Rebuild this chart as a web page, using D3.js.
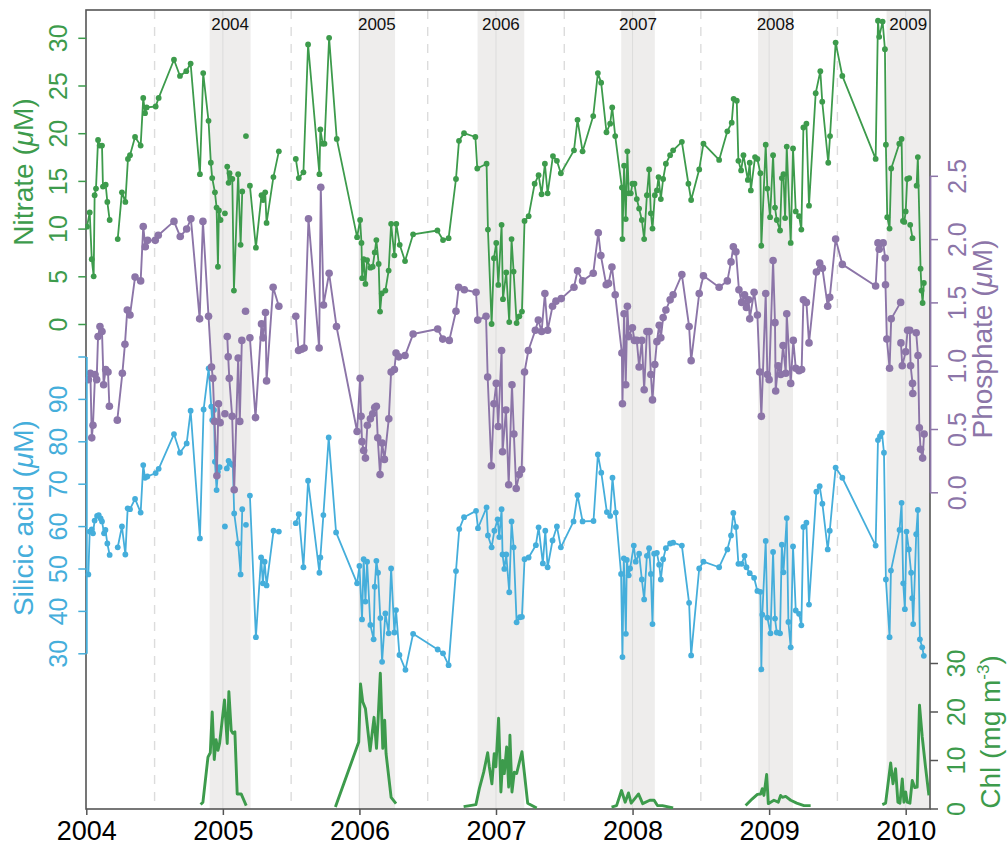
<!DOCTYPE html>
<html>
<head>
<meta charset="utf-8">
<script src="https://cdn.jsdelivr.net/npm/d3@7"></script>
<style>
  body { margin: 0; background: #fff; }
  svg { display: block; }
  text { font-family: "Liberation Sans", Arial, Helvetica, sans-serif; }
</style>
</head>
<body>
<svg id="chart" width="1007" height="847"></svg>
<script>
// Sampling times are years after 1 Jan 2004; null marks a gap in the record.
const nitrate = [
  [0.005,10.2],[0.025,11.7],[0.040,6.8],[0.054,5.0],[0.061,13.5],[0.071,14.2],[0.086,19.3],[0.098,18.7],[0.115,18.7],[0.122,14.4],[0.142,14.6],[0.154,12.8],[0.171,10.9],null,
  [0.230,8.9],[0.261,13.8],[0.286,12.8],[0.305,17.3],[0.320,17.7],[0.357,19.6],[0.398,18.7],[0.417,23.7],[0.430,22.1],[0.442,22.7],[0.508,22.8],[0.530,23.7],[0.642,27.7],[0.686,26.0],[0.732,26.5],[0.764,27.3],[0.832,15.7],[0.856,26.3],[0.895,21.3],[0.912,16.9],[0.922,15.3],[0.942,13.8],[0.954,12.2],[0.964,6.0],[0.971,11.9],[0.983,10.9],null,
  [1.015,11.6],null,
  [1.032,16.5],[1.042,14.8],[1.049,15.8],[1.069,15.2],[1.081,3.5],[1.112,15.7],[1.130,8.3],[1.142,13.9],null,
  [1.169,19.7],null,
  [1.198,14.5],[1.242,8.0],[1.283,13.5],[1.295,13.0],[1.310,13.8],[1.320,10.6],[1.370,15.4],[1.410,18.1],null,
  [1.534,17.3],[1.556,15.3],[1.590,15.9],[1.624,29.3],[1.707,15.7],[1.714,20.4],[1.731,18.9],[1.744,18.9],[1.778,30.0],[1.834,19.4],
  [1.983,9.1],[2.005,10.9],[2.015,8.5],[2.020,4.8],[2.031,6.8],[2.044,4.2],[2.056,6.7],[2.080,5.9],[2.097,6.0],[2.112,7.5],[2.124,8.8],[2.141,6.3],[2.151,1.3],[2.163,3.2],[2.190,3.5],[2.214,5.6],[2.232,10.5],[2.256,7.2],[2.270,10.5],[2.295,8.3],[2.334,6.6],[2.393,9.4],
  [2.571,9.8],[2.612,8.8],[2.653,9.0],[2.707,15.2],[2.729,19.2],[2.766,20.0],[2.849,19.6],[2.863,16.3],[2.931,16.8],[2.941,9.9],[2.968,0.0],[2.985,6.9],[3.002,8.5],[3.017,4.1],[3.041,10.4],[3.051,2.6],[3.075,5.4],[3.097,0.2],[3.114,8.9],[3.129,5.5],[3.151,0.1],[3.171,0.8],[3.190,1.3],[3.209,10.8],[3.239,11.3],
  [3.283,14.7],[3.312,15.6],[3.334,13.6],[3.358,16.8],[3.378,13.7],[3.417,17.6],[3.446,17.1],[3.475,15.8],[3.571,18.2],[3.597,21.4],[3.634,18.1],[3.712,21.8],[3.746,26.3],[3.770,25.3],[3.809,20.1],[3.836,21.0],[3.851,22.7],[3.873,19.7],
  [3.922,14.3],[3.926,8.9],[3.938,16.6],[3.950,11.0],[3.962,18.1],[3.972,13.7],[3.987,13.7],[3.999,14.7],[4.014,14.7],[4.031,13.1],[4.048,12.1],[4.068,10.9],[4.085,8.9],[4.105,13.5],[4.121,16.2],[4.134,11.6],[4.146,10.0],[4.163,13.5],[4.178,14.0],[4.190,15.4],[4.207,13.1],[4.224,15.2],[4.244,16.8],[4.275,17.7],[4.297,18.2],[4.361,19.1],[4.409,14.7],[4.429,13.0],[4.488,16.2],[4.519,18.9],[4.634,17.2],[4.694,20.2],[4.726,21.1],[4.740,23.6],[4.763,23.4],
  [4.775,17.1],[4.795,16.1],[4.812,17.7],[4.844,15.1],[4.858,16.9],[4.866,14.0],[4.897,17.5],[4.914,17.3],[4.936,15.8],[4.943,8.2],[4.975,18.8],[4.987,14.2],[5.007,11.2],[5.029,17.7],[5.043,12.2],[5.056,10.9],[5.080,9.8],[5.093,15.3],[5.105,15.7],[5.117,11.1],[5.129,18.6],[5.158,8.5],[5.175,18.4],[5.195,11.8],[5.219,11.3],[5.236,9.9],[5.251,20.6],[5.273,21.0],[5.292,12.4],
  [5.341,24.2],[5.375,26.5],[5.389,23.3],[5.433,16.9],[5.446,19.7],[5.487,29.5],[5.536,26.0],[5.780,17.3],[5.797,31.8],[5.806,30.1],[5.831,31.7],[5.848,28.8],[5.855,18.8],[5.865,11.2],[5.882,10.0],[5.894,16.3],[5.953,18.9],[5.970,19.4],[5.980,10.8],[5.990,10.7],[6.000,11.8],[6.011,15.2],[6.026,15.3],null,
  [6.033,10.4],[6.050,9.0],null,
  [6.080,14.5],[6.089,17.5],[6.109,5.8],[6.116,3.5],[6.124,2.2],[6.133,4.3]
];

const phosphate = [
  [0.015,0.89],[0.030,0.94],[0.040,0.43],[0.049,0.53],[0.064,0.93],[0.076,0.89],[0.086,1.23],[0.100,1.31],[0.115,1.27],[0.127,0.85],[0.142,0.97],[0.159,0.95],[0.169,0.68],null,
  [0.227,0.57],[0.264,0.94],[0.283,1.17],[0.300,1.44],[0.320,1.40],[0.357,1.70],[0.398,1.67],[0.417,2.10],[0.432,1.94],[0.449,1.99],[0.505,1.99],[0.527,2.03],[0.642,2.14],[0.688,2.02],[0.735,2.08],[0.766,2.16],[0.830,1.37],[0.854,2.14],[0.895,1.39],[0.917,0.99],[0.927,0.90],[0.939,0.56],[0.956,0.13],[0.968,0.70],[0.980,0.55],null,
  [1.015,0.62],null,
  [1.032,1.23],[1.039,1.07],[1.047,0.90],[1.068,0.60],[1.083,0.02],[1.112,1.06],[1.124,0.56],[1.139,1.20],null,
  [1.166,1.43],null,
  [1.198,1.22],[1.239,0.59],[1.283,1.33],[1.295,1.22],[1.312,1.42],[1.320,0.88],[1.368,1.62],[1.410,1.47],null,
  [1.534,1.39],[1.554,1.12],[1.576,1.13],[1.595,1.14],[1.627,2.16],[1.705,1.14],[1.717,2.41],[1.737,1.48],[1.778,1.73],[1.832,1.31],
  [1.983,0.48],[2.005,0.90],[2.012,0.60],[2.019,0.40],[2.031,0.33],[2.044,0.27],[2.058,0.53],[2.080,0.58],[2.097,0.62],[2.112,0.67],[2.124,0.68],[2.134,0.43],[2.151,0.14],[2.166,0.39],[2.183,0.26],[2.215,0.58],[2.232,0.95],[2.256,0.97],[2.268,1.10],[2.288,1.07],[2.334,1.08],[2.393,1.25],
  [2.573,1.29],[2.610,1.21],[2.658,1.20],[2.707,1.43],[2.727,1.62],[2.768,1.60],[2.854,1.58],[2.866,1.36],[2.927,1.39],[2.939,0.91],[2.966,0.21],[2.985,0.70],[3.002,0.86],[3.016,0.52],[3.041,1.12],[3.048,0.32],[3.073,0.65],[3.093,0.06],[3.117,0.85],[3.131,0.46],[3.148,0.03],[3.170,0.14],[3.188,0.18],[3.209,0.95],[3.237,1.12],
  [3.288,1.28],[3.310,1.36],[3.334,1.27],[3.358,1.57],[3.378,1.28],[3.414,1.47],[3.439,1.51],[3.478,1.53],[3.571,1.62],[3.597,1.75],[3.634,1.67],[3.712,1.73],[3.749,2.05],[3.768,1.87],[3.807,1.64],[3.824,1.65],[3.849,1.78],[3.873,1.56],
  [3.922,1.10],[3.926,0.70],[3.938,1.41],[3.950,0.85],[3.962,1.47],[3.972,1.23],[3.999,1.30],[4.014,1.20],[4.031,1.20],[4.048,0.99],[4.068,1.20],[4.085,0.81],[4.105,1.27],[4.121,1.27],[4.134,0.93],[4.146,0.73],[4.163,1.01],[4.178,1.19],[4.195,1.32],[4.207,1.22],[4.224,1.38],[4.244,1.44],[4.275,1.52],[4.297,1.56],[4.361,1.72],[4.414,1.31],[4.429,1.04],[4.488,1.57],[4.519,1.71],[4.634,1.62],[4.694,1.67],[4.721,1.82],[4.738,1.94],[4.757,1.90],
  [4.779,1.60],[4.799,1.50],[4.820,1.56],[4.834,1.46],[4.850,1.52],[4.858,1.37],[4.890,1.58],[4.914,1.40],[4.931,0.95],[4.943,0.60],[4.975,1.57],[4.987,0.93],[5.000,0.89],[5.029,1.83],[5.043,1.34],[5.048,0.80],[5.066,1.00],[5.085,0.93],[5.102,1.16],[5.122,0.94],[5.129,1.41],[5.158,0.86],[5.177,1.20],[5.195,0.98],[5.219,0.96],[5.238,0.97],[5.251,1.52],[5.273,1.50],[5.292,1.18],
  [5.346,1.74],[5.370,1.81],[5.390,1.77],[5.429,1.47],[5.444,1.54],[5.487,2.00],[5.536,1.80],[5.780,1.63],[5.797,1.97],[5.806,1.92],[5.835,1.97],[5.850,1.85],[5.852,1.64],[5.862,1.21],[5.882,0.98],[5.894,1.37],[5.963,1.50],null,
  [5.965,1.18],[5.975,1.00],[6.000,1.11],[6.014,1.28],[6.030,1.28],[6.036,1.00],[6.050,0.86],[6.052,0.78],null,
  [6.077,1.26],[6.090,1.08],[6.100,0.51],[6.109,0.34],[6.124,0.27],[6.135,0.46]
];

const silicic = [
  [0.015,48.6],[0.025,58.7],[0.040,59.2],[0.049,58.3],[0.061,61.3],[0.079,62.4],[0.091,62.6],[0.105,61.8],[0.115,61.1],[0.130,58.3],[0.140,59.1],[0.154,55.9],[0.171,53.2],null,
  [0.230,55.0],[0.261,59.9],[0.286,53.3],[0.303,64.2],[0.320,64.0],[0.357,66.4],[0.398,63.2],[0.417,74.4],[0.430,71.4],[0.447,71.7],[0.508,72.5],[0.530,73.5],[0.642,81.7],[0.686,77.3],[0.735,79.5],[0.764,87.2],[0.832,57.1],[0.859,87.5],[0.896,97.2],[0.915,88.2],[0.922,85.0],[0.935,87.4],[0.942,75.2],[0.954,68.5],[0.964,72.8],[0.976,73.9],null,
  [1.015,59.9],null,
  [1.029,73.6],[1.042,75.4],[1.056,74.7],[1.073,74.4],[1.083,63.0],[1.112,55.9],[1.130,48.6],[1.142,64.0],null,
  [1.169,60.3],null,
  [1.198,67.2],[1.242,33.8],[1.280,52.6],[1.293,46.5],[1.306,51.6],[1.320,46.0],[1.371,58.9],[1.410,58.7],null,
  [1.534,60.7],[1.556,62.8],[1.590,50.3],[1.624,70.7],[1.707,49.0],[1.714,52.6],[1.736,62.6],[1.775,80.9],[1.829,58.5],
  [1.983,46.5],[2.000,50.6],[2.019,38.0],[2.031,52.2],[2.044,42.2],[2.056,51.6],[2.080,36.7],[2.104,33.3],[2.112,45.7],[2.124,51.8],[2.136,49.0],[2.153,38.3],[2.166,28.0],[2.190,39.4],[2.214,34.7],[2.232,50.0],[2.256,34.9],[2.268,40.2],[2.293,29.6],[2.337,26.1],[2.393,34.6],
  [2.573,30.9],[2.612,30.0],[2.653,27.2],[2.707,49.4],[2.731,59.3],[2.766,62.1],[2.854,63.6],[2.868,59.5],[2.931,64.4],[2.941,57.8],[2.968,55.0],[2.988,58.9],[3.012,61.6],[3.024,57.4],[3.041,64.0],[3.048,53.3],[3.061,49.9],[3.075,53.3],[3.097,44.4],[3.114,61.1],[3.129,55.0],[3.151,37.3],[3.175,38.5],[3.190,38.6],[3.209,52.2],[3.239,52.6],
  [3.292,55.5],[3.312,59.7],[3.343,51.2],[3.361,58.9],[3.378,50.3],[3.414,56.6],[3.446,59.9],[3.475,55.0],[3.568,61.1],[3.597,67.3],[3.634,61.1],[3.714,61.2],[3.746,76.9],[3.771,72.6],[3.812,63.3],[3.836,62.4],[3.853,71.4],[3.877,63.2],
  [3.916,48.7],[3.926,29.1],[3.936,52.4],[3.951,34.6],[3.958,52.0],[3.972,48.4],[3.982,50.0],[4.009,55.4],[4.023,51.6],[4.048,53.5],[4.068,47.4],[4.085,42.7],[4.105,53.0],[4.121,54.8],[4.134,48.7],[4.146,36.9],[4.158,53.5],[4.178,53.7],[4.195,50.9],[4.207,47.4],[4.224,52.2],[4.244,54.8],[4.275,55.9],[4.297,56.1],[4.361,55.4],[4.414,41.9],[4.429,29.5],[4.488,50.0],[4.519,51.6],[4.634,50.3],[4.694,54.5],[4.721,57.8],[4.738,63.1],[4.757,59.8],
  [4.775,51.1],[4.799,51.1],[4.820,53.0],[4.834,50.3],[4.858,48.9],[4.890,47.8],[4.914,44.7],[4.936,44.5],[4.943,26.2],[4.950,39.1],[4.975,56.5],[4.987,38.4],[5.010,34.7],[5.029,53.9],[5.043,38.2],[5.056,34.9],[5.080,34.7],[5.093,55.6],[5.105,49.1],[5.129,61.9],[5.141,37.4],[5.158,31.4],[5.175,55.2],[5.195,40.1],[5.219,39.3],[5.236,36.6],[5.251,59.8],[5.273,60.8],[5.292,41.5],
  [5.346,68.1],[5.370,69.4],[5.390,65.3],[5.429,54.5],[5.444,58.9],[5.487,73.8],[5.536,71.4],[5.780,55.4],[5.797,80.3],[5.812,81.2],[5.826,82.0],[5.841,77.3],[5.855,47.4],[5.882,33.8],[5.892,49.5],[5.955,59.1],[5.970,65.5],[5.982,46.5],[5.994,40.4],[6.006,58.7],[6.023,54.5],[6.040,49.0],[6.048,43.0],[6.055,36.9],[6.077,58.1],[6.089,63.8],[6.104,33.3],[6.121,31.4],[6.133,29.4]
];

const chl = [
  [0.837,0.8],[0.854,1.3],[0.891,10.6],[0.908,11.5],[0.922,19.9],[0.937,10.1],[0.950,14.2],[0.964,12.0],[0.976,13.4],[1.012,22.4],[1.032,13.4],[1.044,24.1],[1.061,16.1],[1.073,15.5],[1.088,15.8],[1.105,3.0],[1.134,3.0],[1.171,0.6],null,
  [1.824,0.3],[1.995,13.7],[2.008,25.7],[2.024,22.0],[2.044,20.6],[2.078,11.9],[2.107,18.8],[2.125,12.4],[2.136,17.9],[2.153,27.9],[2.171,12.4],[2.185,18.2],[2.195,11.3],[2.232,2.3],[2.268,1.0],null,
  [2.763,0.4],[2.853,0.8],[2.878,4.1],[2.910,7.5],[2.939,11.5],[2.951,8.6],[2.970,5.1],[2.987,11.3],[2.999,8.6],[3.019,18.6],[3.036,3.4],[3.049,9.9],[3.061,7.2],[3.078,12.7],[3.093,4.4],[3.102,15.1],[3.117,3.4],[3.134,7.5],[3.151,7.2],[3.190,11.7],[3.207,7.5],[3.232,1.1],[3.298,0.1],null,
  [3.846,0.3],[3.883,0.6],[3.919,3.7],[3.946,1.3],[3.970,3.2],[3.990,1.1],[4.044,3.0],[4.074,1.0],[4.126,1.7],[4.158,1.7],[4.182,0.6],[4.219,0.6],[4.297,0.1],null,
  [4.828,0.6],[4.877,2.0],[4.914,2.9],[4.938,3.0],[4.950,4.1],[4.962,2.7],[4.982,7.0],[4.994,1.0],[5.011,1.3],[5.035,1.7],[5.067,1.3],[5.084,2.7],[5.097,2.3],[5.121,2.5],[5.158,1.7],[5.202,1.1],[5.255,0.6],[5.304,0.6],null,
  [5.829,0.8],[5.853,1.1],[5.890,9.4],[5.907,5.1],[5.926,8.2],[5.943,1.3],[5.958,1.1],[5.975,6.1],[5.987,1.3],[6.000,3.4],[6.011,1.3],[6.031,1.1],[6.048,5.8],[6.067,4.3],[6.084,4.4],[6.101,21.3],[6.121,14.8],[6.145,8.6],[6.170,2.7]
];

// Winter sampling periods (start, end, label), in years after 1 Jan 2004
const winters = [
  [0.903, 1.203, "2004"],
  [1.994, 2.261, "2005"],
  [2.865, 3.207, "2006"],
  [3.917, 4.163, "2007"],
  [4.919, 5.175, "2008"],
  [5.860, 6.178, "2009"]
];

const yearTicks = [2004, 2005, 2006, 2007, 2008, 2009, 2010];
const midYears = [2004.5, 2005.5, 2006.5, 2007.5, 2008.5, 2009.5];
const nitrateTicks = [0, 5, 10, 15, 20, 25, 30];
const phosphateTicks = [0, 0.5, 1.0, 1.5, 2.0, 2.5];
const silicicTicks = [30, 40, 50, 60, 70, 80, 90, 100];
const chlTicks = [0, 10, 20, 30];

const T0 = 2004;
const COL = {
  nitrate: "#3d9b4c",
  phosphate: "#8c75a8",
  silicic: "#45aedb",
  chl: "#3d9b4c",
  frame: "#555555",
  shade: "#eeedec",
  grid: "#dcdcdc"
};

const svg = d3.select("#chart");
const L = 86.3, R = 930, TOP = 10, BOT = 809;

const x = d3.scaleLinear().domain([2004, 2010.178]).range([L, R]);
const yN = d3.scaleLinear().domain([0, 30]).range([324, 37.8]);
const yP = d3.scaleLinear().domain([0, 2.5]).range([492.3, 175.8]);
const yS = d3.scaleLinear().domain([30, 100]).range([653.3, 356.5]);
const yC = d3.scaleLinear().domain([0, 30]).range([808.5, 663]);

svg.append("defs").append("clipPath").attr("id", "plotclip")
  .append("rect").attr("x", L - 1).attr("y", TOP).attr("width", R - L + 1).attr("height", BOT - TOP);

// background: winter shading, year boundaries, mid-year dashes
const bg = svg.append("g").attr("clip-path", "url(#plotclip)");
bg.selectAll("rect.winter").data(winters).join("rect")
  .attr("class", "winter")
  .attr("x", d => x(T0 + d[0]))
  .attr("width", d => x(T0 + d[1]) - x(T0 + d[0]))
  .attr("y", TOP).attr("height", BOT - TOP)
  .attr("fill", COL.shade);

bg.selectAll("line.year").data(yearTicks.slice(1)).join("line")
  .attr("class", "year")
  .attr("x1", d => x(d)).attr("x2", d => x(d))
  .attr("y1", TOP).attr("y2", BOT)
  .attr("stroke", COL.grid).attr("stroke-width", 1);

bg.selectAll("line.mid").data(midYears).join("line")
  .attr("class", "mid")
  .attr("x1", d => x(d)).attr("x2", d => x(d))
  .attr("y1", TOP).attr("y2", BOT)
  .attr("stroke", COL.grid).attr("stroke-width", 1.4)
  .attr("stroke-dasharray", "9,8");

svg.append("g").selectAll("text").data(winters).join("text")
  .attr("x", d => (x(T0 + d[0]) + x(T0 + d[1])) / 2)
  .attr("y", 30)
  .attr("text-anchor", "middle")
  .attr("font-size", 17)
  .attr("fill", "#111")
  .text(d => d[2]);

// frame
svg.append("rect")
  .attr("x", L - 0.3).attr("y", TOP).attr("width", R - L + 0.3).attr("height", BOT - TOP)
  .attr("fill", "none").attr("stroke", COL.frame).attr("stroke-width", 1.6);

// series
const plot = svg.append("g").attr("clip-path", "url(#plotclip)");

function drawSeries(data, yScale, color, r, width) {
  const line = d3.line()
    .defined(d => d !== null)
    .x(d => x(T0 + d[0]))
    .y(d => yScale(d[1]));
  const g = plot.append("g");
  g.append("path").datum(data)
    .attr("d", line)
    .attr("fill", "none")
    .attr("stroke", color)
    .attr("stroke-width", width)
    .attr("stroke-linejoin", "round");
  if (r > 0) {
    g.selectAll("circle").data(data.filter(d => d !== null)).join("circle")
      .attr("cx", d => x(T0 + d[0]))
      .attr("cy", d => yScale(d[1]))
      .attr("r", r)
      .attr("fill", color);
  }
}

drawSeries(silicic, yS, COL.silicic, 2.9, 1.8);
drawSeries(phosphate, yP, COL.phosphate, 3.8, 1.9);
drawSeries(nitrate, yN, COL.nitrate, 2.9, 1.8);
drawSeries(chl, yC, COL.chl, 0, 2.9);

// axes
function styleAxis(g, color, labelColor, fontSize) {
  g.selectAll(".tick line").attr("stroke", color).attr("stroke-width", 1.5);
  g.selectAll(".tick text").attr("fill", labelColor).attr("font-size", fontSize);
  g.select(".domain").attr("stroke", color).attr("stroke-width", 1.8);
}

function rotateLabels(g, dx) {
  g.selectAll(".tick text")
    .attr("x", 0).attr("y", 0).attr("dy", 0)
    .attr("text-anchor", "middle")
    .attr("transform", `translate(${dx},0) rotate(-90)`);
}

const axN = svg.append("g").attr("transform", `translate(${L},0)`)
  .call(d3.axisLeft(yN).tickValues(nitrateTicks).tickSize(8).tickSizeOuter(0).tickFormat(d3.format("d")));
axN.select(".domain").remove();
styleAxis(axN, COL.nitrate, COL.nitrate, 25);
rotateLabels(axN, -19);

const axS = svg.append("g").attr("transform", `translate(${L},0)`)
  .call(d3.axisLeft(yS).tickValues(silicicTicks).tickSize(8).tickSizeOuter(0)
    .tickFormat(d => d === 100 ? "" : d3.format("d")(d)));
styleAxis(axS, COL.silicic, COL.silicic, 25);
rotateLabels(axS, -19);

const axP = svg.append("g").attr("transform", `translate(${R},0)`)
  .call(d3.axisRight(yP).tickValues(phosphateTicks).tickSize(8).tickSizeOuter(0).tickFormat(d3.format(".1f")));
styleAxis(axP, COL.phosphate, COL.phosphate, 25);
rotateLabels(axP, 36);

const axC = svg.append("g").attr("transform", `translate(${R},0)`)
  .call(d3.axisRight(yC).tickValues(chlTicks).tickSize(8).tickSizeOuter(0).tickFormat(d3.format("d")));
axC.select(".domain").remove();
styleAxis(axC, COL.frame, COL.chl, 25);
rotateLabels(axC, 35);

const axX = svg.append("g").attr("transform", `translate(0,${BOT})`)
  .call(d3.axisBottom(x).tickValues(yearTicks).tickSize(6).tickSizeOuter(0).tickFormat(d3.format("d")));
axX.select(".domain").remove();
axX.selectAll(".tick line").attr("stroke", COL.frame).attr("stroke-width", 1.5);
axX.selectAll(".tick text").attr("fill", "#000").attr("font-size", 27).attr("y", 12);

// axis titles
function muTitle(tx, ty, name, color) {
  const t = svg.append("text")
    .attr("transform", `translate(${tx},${ty}) rotate(-90)`)
    .attr("text-anchor", "middle")
    .attr("font-size", 28)
    .attr("fill", color);
  t.append("tspan").text(name + " (");
  t.append("tspan").attr("font-style", "italic").text("\u03BC");
  t.append("tspan").text("M)");
}
muTitle(33, 172, "Nitrate", COL.nitrate);
muTitle(33, 518, "Silicic acid", COL.silicic);
muTitle(992, 339, "Phosphate", COL.phosphate);

const chlTitle = svg.append("text")
  .attr("transform", `translate(1000,732) rotate(-90)`)
  .attr("text-anchor", "middle")
  .attr("font-size", 28)
  .attr("fill", COL.chl);
chlTitle.append("tspan").text("Chl (mg m");
chlTitle.append("tspan").attr("font-size", 17).attr("dy", -11).text("-3");
chlTitle.append("tspan").attr("dy", 11).text(")");
</script>
</body>
</html>
